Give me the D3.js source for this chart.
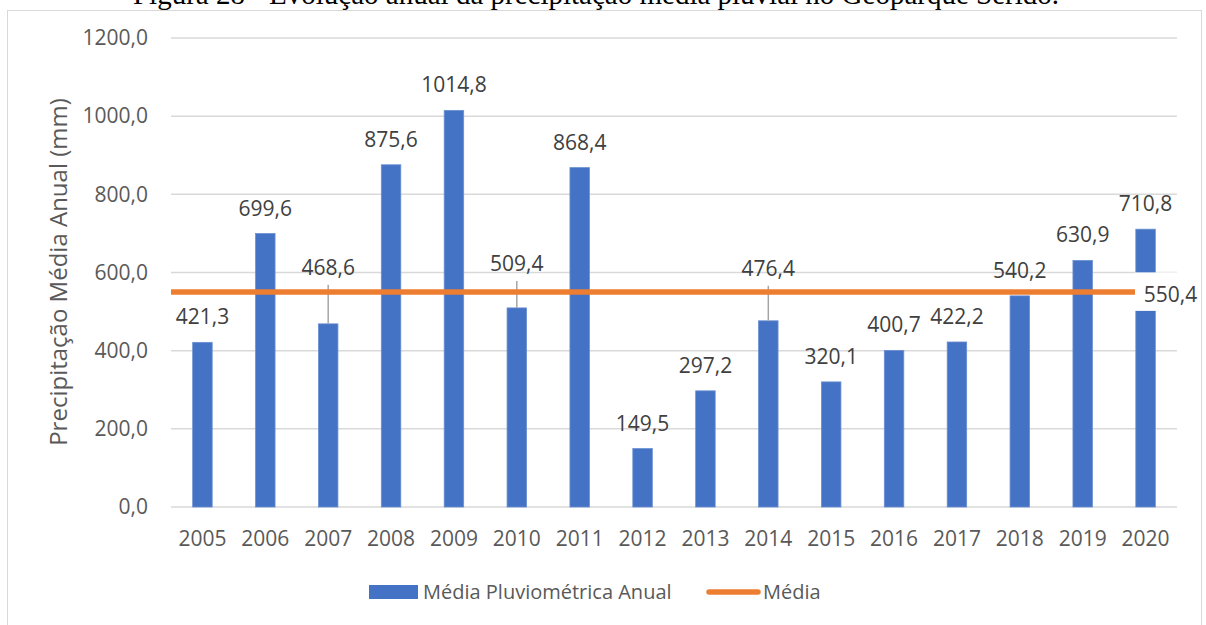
<!DOCTYPE html>
<html lang="pt-BR">
<head>
<meta charset="UTF-8">
<title>Precipitação média anual</title>
<script src="https://cdn.jsdelivr.net/npm/d3@7"></script>
<style>
    body { margin: 0; background: #fff; }
    svg text { font-family: "Open Sans", sans-serif; }
    .title { font-family: "Liberation Serif", "Times New Roman", serif; }
</style>
</head>
<body>
<svg width="1206" height="625"></svg>
<script>
    // dados
    var anos = ["2005", "2006", "2007", "2008", "2009", "2010", "2011", "2012",
        "2013", "2014", "2015", "2016", "2017", "2018", "2019", "2020"];
    var precipitacao = [421.3, 699.6, 468.6, 875.6, 1014.8, 509.4, 868.4, 149.5,
        297.2, 476.4, 320.1, 400.7, 422.2, 540.2, 630.9, 710.8];
    var media = [550.4, 550.4, 550.4, 550.4, 550.4, 550.4, 550.4, 550.4,
        550.4, 550.4, 550.4, 550.4, 550.4, 550.4, 550.4, 550.4];
    var yTicks = [0, 200, 400, 600, 800, 1000, 1200];
    // rótulos deslocados para cima (com linha de chamada)
    var rotuloDeslocado = {"2007": 31, "2010": 19, "2014": 27};

    var svg = d3.select("svg");
    var fmt = function (v) { return d3.format(".1f")(v).replace(".", ","); };

    // moldura do gráfico
    svg.append("rect")
        .attr("x", 7.5).attr("y", 10.5)
        .attr("width", 1194).attr("height", 640)
        .attr("fill", "#fff").attr("stroke", "#d9d9d9").attr("stroke-width", 1);

    // título (cortado no topo, como no original)
    svg.append("text").attr("class", "title")
        .attr("x", 596).attr("y", 4)
        .attr("text-anchor", "middle")
        .attr("font-size", 29)
        .attr("fill", "#000")
        .text("Figura 28 - Evolução anual da precipitação média pluvial no Geoparque Seridó.");

    var x = d3.scaleBand().domain(anos).range([171, 1177])
        .paddingInner(0.69).paddingOuter(0.345);
    var xLinha = d3.scalePoint().domain(anos).range([171, 1177]);
    var y = d3.scaleLinear().domain([0, 1200]).range([507, 38]);

    // grade
    svg.append("g").selectAll("line").data(yTicks).enter().append("line")
        .attr("x1", 171).attr("x2", 1177)
        .attr("y1", function (d) { return y(d); })
        .attr("y2", function (d) { return y(d); })
        .attr("stroke", "#d9d9d9").attr("stroke-width", 1.5);

    // eixo y
    var eixoY = svg.append("g").attr("transform", "translate(171,0)")
        .call(d3.axisLeft(y).tickValues(yTicks).tickSize(0).tickPadding(23).tickFormat(fmt));
    eixoY.select(".domain").remove();
    eixoY.selectAll("text").attr("font-size", 21).attr("fill", "#595959")
        .attr("font-family", "Open Sans");

    // eixo x
    var eixoX = svg.append("g").attr("transform", "translate(0,507)")
        .call(d3.axisBottom(x).tickSize(0).tickPadding(24));
    eixoX.select(".domain").remove();
    eixoX.selectAll("text").attr("font-size", 21).attr("fill", "#595959")
        .attr("font-family", "Open Sans");

    // título do eixo y
    svg.append("text")
        .attr("transform", "translate(67,272) rotate(-90)")
        .attr("text-anchor", "middle")
        .attr("font-size", 24).attr("fill", "#595959")
        .text("Precipitação Média Anual (mm)");

    var dados = anos.map(function (a, i) { return {ano: a, v: precipitacao[i]}; });

    // barras
    svg.append("g").selectAll("rect").data(dados).enter().append("rect")
        .attr("x", function (d) { return x(d.ano); })
        .attr("y", function (d) { return y(d.v); })
        .attr("width", x.bandwidth())
        .attr("height", function (d) { return y(0) - y(d.v); })
        .attr("fill", "#4472c4")
        .attr("stroke", "#6a8fd2").attr("stroke-width", 0.8);

    // linhas de chamada
    svg.append("g").selectAll("line")
        .data(dados.filter(function (d) { return rotuloDeslocado[d.ano]; }))
        .enter().append("line")
        .attr("x1", function (d) { return x(d.ano) + x.bandwidth() / 2; })
        .attr("x2", function (d) { return x(d.ano) + x.bandwidth() / 2; })
        .attr("y1", function (d) { return y(d.v) - 18 - rotuloDeslocado[d.ano] + 10; })
        .attr("y2", function (d) { return y(d.v); })
        .attr("stroke", "#a6a6a6").attr("stroke-width", 1.5);

    // linha da média
    var linha = d3.line()
        .x(function (d, i) { return xLinha(anos[i]); })
        .y(function (d) { return y(d); });
    svg.append("path").datum(media)
        .attr("d", linha)
        .attr("fill", "none")
        .attr("stroke", "#ed7d31").attr("stroke-width", 5.5);

    // rótulos das barras
    svg.append("g").selectAll("text").data(dados).enter().append("text")
        .attr("x", function (d) { return x(d.ano) + x.bandwidth() / 2; })
        .attr("y", function (d) { return y(d.v) - 18 - (rotuloDeslocado[d.ano] || 0); })
        .attr("text-anchor", "middle")
        .attr("font-size", 21).attr("fill", "#404040")
        .text(function (d) { return fmt(d.v); });

    // rótulo da média no último ponto (com fundo branco)
    var ultimo = anos[anos.length - 1];
    var px = xLinha(ultimo), py = y(media[media.length - 1]);
    svg.append("rect")
        .attr("x", px - 42).attr("y", py - 19.5)
        .attr("width", 66).attr("height", 38.5)
        .attr("fill", "#fff");
    svg.append("text")
        .attr("x", px - 6.5).attr("y", py + 10)
        .attr("text-anchor", "middle")
        .attr("font-size", 21).attr("fill", "#404040")
        .text(fmt(media[media.length - 1]));
    // redesenha a borda direita por cima do fundo do rótulo
    svg.append("line")
        .attr("x1", 1201.5).attr("x2", 1201.5).attr("y1", 10).attr("y2", 625)
        .attr("stroke", "#d9d9d9").attr("stroke-width", 1);

    // legenda
    var leg = svg.append("g");
    leg.append("rect")
        .attr("x", 369).attr("y", 585).attr("width", 49).attr("height", 14)
        .attr("fill", "#4472c4");
    leg.append("text")
        .attr("x", 423).attr("y", 599)
        .attr("font-size", 20).attr("fill", "#595959")
        .text("Média Pluviométrica Anual");
    leg.append("line")
        .attr("x1", 709).attr("x2", 758).attr("y1", 592).attr("y2", 592)
        .attr("stroke", "#ed7d31").attr("stroke-width", 5.5)
        .attr("stroke-linecap", "round");
    leg.append("text")
        .attr("x", 763).attr("y", 599)
        .attr("font-size", 20).attr("fill", "#595959")
        .text("Média");
</script>
</body>
</html>
